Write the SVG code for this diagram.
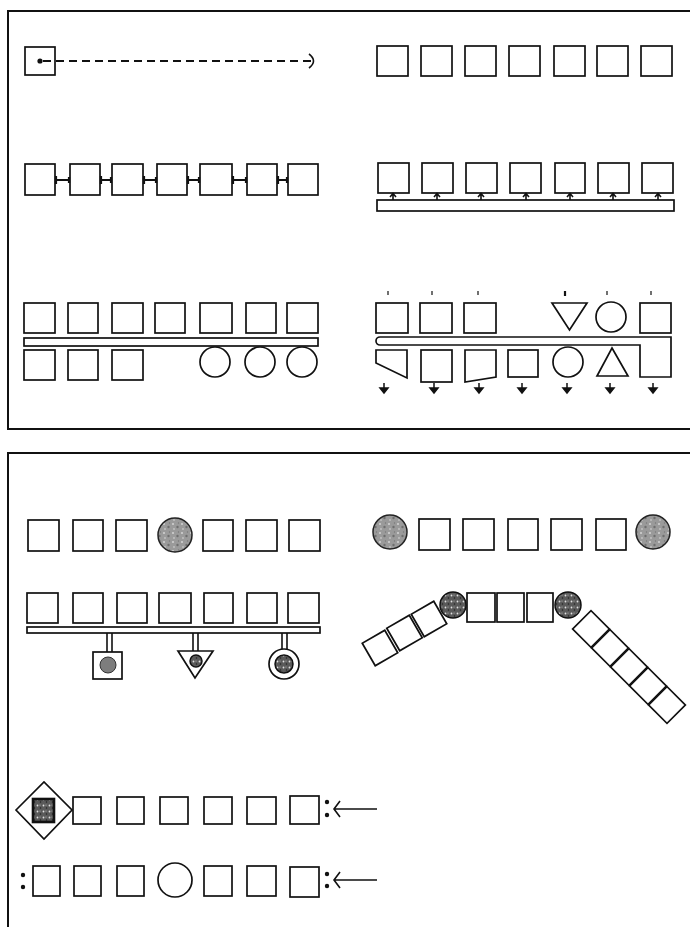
<svg xmlns="http://www.w3.org/2000/svg" width="690" height="927" viewBox="0 0 690 927">
<style>
.bg{fill:#fff}
.frame{fill:none;stroke:#111;stroke-width:2}
.s{fill:#fff;stroke:#111;stroke-width:1.7;stroke-linejoin:miter}
.g{fill:url(#spk);stroke:#222;stroke-width:1.5}
.d{fill:url(#dk);stroke:#111;stroke-width:1.5}
.ln{fill:none;stroke:#111;stroke-width:1.6}
.tk{fill:none;stroke:#111;stroke-width:2.2}
.dot{fill:#111}
</style>
<defs>
<pattern id="spk" width="9" height="9" patternUnits="userSpaceOnUse">
<rect width="9" height="9" fill="#9a9a9a"/>
<circle cx="2" cy="2" r="1.1" fill="#d0d0d0"/>
<circle cx="6.5" cy="5" r="1.2" fill="#6e6e6e"/>
<circle cx="3" cy="7" r="0.9" fill="#c4c4c4"/>
<circle cx="7.5" cy="1" r="0.7" fill="#777"/>
</pattern>
<pattern id="dk" width="6" height="6" patternUnits="userSpaceOnUse">
<rect width="6" height="6" fill="#5a5a5a"/>
<circle cx="1.5" cy="1.5" r="0.9" fill="#e0e0e0"/>
<circle cx="4.5" cy="4" r="0.8" fill="#222"/>
<circle cx="4" cy="1" r="0.6" fill="#bbb"/>
</pattern>
</defs>
<rect class="bg" width="690" height="927"/>
<rect class="frame" x="8" y="11" width="700" height="418"/>
<rect class="frame" x="8" y="453" width="700" height="500"/>

<!-- PANEL 1 -->
<g id="p1-r1-left">
<g id="p1-src"><rect class="s" x="25" y="47" width="30" height="28"/><circle class="dot" cx="40" cy="61" r="2.6"/></g>
</g>
<g id="p1-r1-right">
<g id="p1a1"><rect class="s" x="377" y="46" width="31" height="30"/></g>
<g id="p1a2"><rect class="s" x="421" y="46" width="31" height="30"/></g>
<g id="p1a3"><rect class="s" x="465" y="46" width="31" height="30"/></g>
<g id="p1a4"><rect class="s" x="509" y="46" width="31" height="30"/></g>
<g id="p1a5"><rect class="s" x="554" y="46" width="31" height="30"/></g>
<g id="p1a6"><rect class="s" x="597" y="46" width="31" height="30"/></g>
<g id="p1a7"><rect class="s" x="641" y="46" width="31" height="30"/></g>
</g>
<g id="p1-r2-left">
<g id="p1b1"><rect class="s" x="25" y="164" width="30" height="31"/></g>
<g id="p1b2"><rect class="s" x="70" y="164" width="30" height="31"/></g>
<g id="p1b3"><rect class="s" x="112" y="164" width="31" height="31"/></g>
<g id="p1b4"><rect class="s" x="157" y="164" width="30" height="31"/></g>
<g id="p1b5"><rect class="s" x="200" y="164" width="32" height="31"/></g>
<g id="p1b6"><rect class="s" x="247" y="164" width="30" height="31"/></g>
<g id="p1b7"><rect class="s" x="288" y="164" width="30" height="31"/></g>
</g>
<g id="p1-r2-right">
<g id="p1c1"><rect class="s" x="378" y="163" width="31" height="30"/></g>
<g id="p1c2"><rect class="s" x="422" y="163" width="31" height="30"/></g>
<g id="p1c3"><rect class="s" x="466" y="163" width="31" height="30"/></g>
<g id="p1c4"><rect class="s" x="510" y="163" width="31" height="30"/></g>
<g id="p1c5"><rect class="s" x="555" y="163" width="30" height="30"/></g>
<g id="p1c6"><rect class="s" x="598" y="163" width="31" height="30"/></g>
<g id="p1c7"><rect class="s" x="642" y="163" width="31" height="30"/></g>
<g id="p1c-rail"><rect class="s" x="377" y="200" width="297" height="11"/></g>
</g>
<g id="p1-r3-left">
<g id="p1d1"><rect class="s" x="24" y="303" width="31" height="30"/></g>
<g id="p1d2"><rect class="s" x="68" y="303" width="30" height="30"/></g>
<g id="p1d3"><rect class="s" x="112" y="303" width="31" height="30"/></g>
<g id="p1d4"><rect class="s" x="155" y="303" width="30" height="30"/></g>
<g id="p1d5"><rect class="s" x="200" y="303" width="32" height="30"/></g>
<g id="p1d6"><rect class="s" x="246" y="303" width="30" height="30"/></g>
<g id="p1d7"><rect class="s" x="287" y="303" width="31" height="30"/></g>
<g id="p1d-rail"><rect class="s" x="24" y="338" width="294" height="8"/></g>
<g id="p1e1"><rect class="s" x="24" y="350" width="31" height="30"/></g>
<g id="p1e2"><rect class="s" x="68" y="350" width="30" height="30"/></g>
<g id="p1e3"><rect class="s" x="112" y="350" width="31" height="30"/></g>
<g id="p1e4"><circle class="s" cx="215" cy="362" r="15"/></g>
<g id="p1e5"><circle class="s" cx="260" cy="362" r="15"/></g>
<g id="p1e6"><circle class="s" cx="302" cy="362" r="15"/></g>
</g>
<g id="p1-r3-right">
<g id="p1f1"><rect class="s" x="376" y="303" width="32" height="30"/></g>
<g id="p1f2"><rect class="s" x="420" y="303" width="32" height="30"/></g>
<g id="p1f3"><rect class="s" x="464" y="303" width="32" height="30"/></g>
<g id="p1f4"><path class="s" d="M552,303 H587 L569.5,330 Z"/></g>
<g id="p1f5"><circle class="s" cx="611" cy="317" r="15"/></g>
<g id="p1f6"><rect class="s" x="640" y="303" width="31" height="30"/></g>
<g id="p1f-rail"><path class="s" d="M380,337 H671 V377 H640 V345 H380 A4,4 0 0 1 380,337 Z"/></g>
<g id="p1g1"><path class="s" d="M376,350 H407 V378 L376,363 Z"/></g>
<g id="p1g2"><rect class="s" x="421" y="350" width="31" height="32"/></g>
<g id="p1g3"><path class="s" d="M465,350 H496 V377 L465,382 Z"/></g>
<g id="p1g4"><rect class="s" x="508" y="350" width="30" height="27"/></g>
<g id="p1g5"><circle class="s" cx="568" cy="362" r="15"/></g>
<g id="p1g6"><path class="s" d="M612,348 L628,376 H597 Z"/></g>
</g>

<!-- PANEL 2 -->
<g id="p2-r1-left">
<g id="p2a1"><rect class="s" x="28" y="520" width="31" height="31"/></g>
<g id="p2a2"><rect class="s" x="73" y="520" width="30" height="31"/></g>
<g id="p2a3"><rect class="s" x="116" y="520" width="31" height="31"/></g>
<g id="p2a4"><circle class="g" cx="175" cy="535" r="17"/></g>
<g id="p2a5"><rect class="s" x="203" y="520" width="30" height="31"/></g>
<g id="p2a6"><rect class="s" x="246" y="520" width="31" height="31"/></g>
<g id="p2a7"><rect class="s" x="289" y="520" width="31" height="31"/></g>
</g>
<g id="p2-r2-left">
<g id="p2b1"><rect class="s" x="27" y="593" width="31" height="30"/></g>
<g id="p2b2"><rect class="s" x="73" y="593" width="30" height="30"/></g>
<g id="p2b3"><rect class="s" x="117" y="593" width="30" height="30"/></g>
<g id="p2b4"><rect class="s" x="159" y="593" width="32" height="30"/></g>
<g id="p2b5"><rect class="s" x="204" y="593" width="29" height="30"/></g>
<g id="p2b6"><rect class="s" x="247" y="593" width="30" height="30"/></g>
<g id="p2b7"><rect class="s" x="288" y="593" width="31" height="30"/></g>
<g id="p2b-rail"><rect class="s" x="27" y="627" width="293" height="6"/></g>
<g id="p2c1"><rect class="s" x="93" y="652" width="29" height="27"/><circle cx="108" cy="665" r="8" fill="#7d7d7d" stroke="#333" stroke-width="1"/></g>
<g id="p2c2"><path class="s" d="M178,651 H213 L195,678 Z"/><circle class="d" cx="196" cy="661" r="6"/></g>
<g id="p2c3"><circle class="s" cx="284" cy="664" r="15"/><circle class="d" cx="284" cy="664" r="9"/></g>
</g>
<g id="p2-r1-right">
<g id="p2d1"><circle class="g" cx="390" cy="532" r="17"/></g>
<g id="p2d2"><rect class="s" x="419" y="519" width="31" height="31"/></g>
<g id="p2d3"><rect class="s" x="463" y="519" width="31" height="31"/></g>
<g id="p2d4"><rect class="s" x="508" y="519" width="30" height="31"/></g>
<g id="p2d5"><rect class="s" x="551" y="519" width="31" height="31"/></g>
<g id="p2d6"><rect class="s" x="596" y="519" width="30" height="31"/></g>
<g id="p2d7"><circle class="g" cx="653" cy="532" r="17"/></g>
</g>
<g id="p2-r2-right">
<g id="p2e1"><circle class="d" cx="453" cy="605" r="13"/></g>
<g id="p2e2"><rect class="s" x="467" y="593" width="28" height="29"/></g>
<g id="p2e3"><rect class="s" x="497" y="593" width="27" height="29"/></g>
<g id="p2e4"><rect class="s" x="527" y="593" width="26" height="29"/></g>
<g id="p2e5"><circle class="d" cx="568" cy="605" r="13"/></g>
<g id="p2f1"><rect class="s" x="-13" y="-13" width="26" height="26" transform="translate(429,619) rotate(-30)"/></g>
<g id="p2f2"><rect class="s" x="-13" y="-13" width="26" height="26" transform="translate(404.5,633) rotate(-30)"/></g>
<g id="p2f3"><rect class="s" x="-13" y="-13" width="26" height="26" transform="translate(380,648) rotate(-30)"/></g>
<g id="p2g1"><rect class="s" x="-13" y="-13" width="26" height="26" transform="translate(591,629) rotate(45)"/></g>
<g id="p2g2"><rect class="s" x="-13" y="-13" width="26" height="26" transform="translate(610,648) rotate(45)"/></g>
<g id="p2g3"><rect class="s" x="-13" y="-13" width="26" height="26" transform="translate(629,667) rotate(45)"/></g>
<g id="p2g4"><rect class="s" x="-13" y="-13" width="26" height="26" transform="translate(648,686) rotate(45)"/></g>
<g id="p2g5"><rect class="s" x="-13" y="-13" width="26" height="26" transform="translate(667,705) rotate(45)"/></g>
</g>
<g id="p2-r3">
<g id="p2h0"><path class="s" d="M16,810 L44,782 L72,810 L44,839 Z"/><rect x="33" y="799" width="21" height="23" fill="url(#dk)" stroke="#111" stroke-width="2.6"/></g>
<g id="p2h1"><rect class="s" x="73" y="797" width="28" height="27"/></g>
<g id="p2h2"><rect class="s" x="117" y="797" width="27" height="27"/></g>
<g id="p2h3"><rect class="s" x="160" y="797" width="28" height="27"/></g>
<g id="p2h4"><rect class="s" x="204" y="797" width="28" height="27"/></g>
<g id="p2h5"><rect class="s" x="247" y="797" width="29" height="27"/></g>
<g id="p2h6"><rect class="s" x="290" y="796" width="29" height="28"/></g>
</g>
<g id="p2-r4">
<g id="p2i1"><rect class="s" x="33" y="866" width="27" height="30"/></g>
<g id="p2i2"><rect class="s" x="74" y="866" width="27" height="30"/></g>
<g id="p2i3"><rect class="s" x="117" y="866" width="27" height="30"/></g>
<g id="p2i4"><circle class="s" cx="175" cy="880" r="17"/></g>
<g id="p2i5"><rect class="s" x="204" y="866" width="28" height="30"/></g>
<g id="p2i6"><rect class="s" x="247" y="866" width="29" height="30"/></g>
<g id="p2i7"><rect class="s" x="290" y="867" width="29" height="30"/></g>
</g>

<!-- CONNECTORS -->
<g id="connectors">
<line x1="43" y1="61" x2="313" y2="61" stroke="#111" stroke-width="1.8" stroke-dasharray="8 5"/>
<path class="ln" d="M309,54 Q318,61 309,68" stroke-width="2"/>
<g class="tk">
<path d="M55,180 H70 M56,176 V184 M69,177 V183"/>
<path d="M100,180 H112 M101,176 V184 M111,177 V183"/>
<path d="M143,180 H157 M144,176 V184 M156,177 V183"/>
<path d="M187,180 H200 M188,176 V184 M199,177 V183"/>
<path d="M232,180 H247 M233,176 V184 M246,177 V183"/>
<path d="M277,180 H288 M278,176 V184 M287,177 V183"/>
</g>
<g class="ln">
<path d="M393,200 V194 M390,197 L393,193.5 L396,197"/>
<path d="M437,200 V194 M434,197 L437,193.5 L440,197"/>
<path d="M481,200 V194 M478,197 L481,193.5 L484,197"/>
<path d="M526,200 V194 M523,197 L526,193.5 L529,197"/>
<path d="M570,200 V194 M567,197 L570,193.5 L573,197"/>
<path d="M613,200 V194 M610,197 L613,193.5 L616,197"/>
<path d="M658,200 V194 M655,197 L658,193.5 L661,197"/>
</g>
<g stroke="#111" stroke-width="1.2">
<line x1="388" y1="291" x2="388" y2="295"/>
<line x1="432" y1="291" x2="432" y2="295"/>
<line x1="478" y1="291" x2="478" y2="295"/>
<line x1="565" y1="291" x2="565" y2="296" stroke-width="2.2"/>
<line x1="607" y1="291" x2="607" y2="295"/>
<line x1="651" y1="291" x2="651" y2="295"/>
</g>
<g stroke="#111" stroke-width="1.5" fill="#111">
<path d="M384,383 V390 M380,388 L388,388 L384,393 Z"/>
<path d="M434,383 V390 M430,388 L438,388 L434,393 Z"/>
<path d="M479,383 V390 M475,388 L483,388 L479,393 Z"/>
<path d="M522,383 V390 M518,388 L526,388 L522,393 Z"/>
<path d="M567,383 V390 M563,388 L571,388 L567,393 Z"/>
<path d="M610,383 V390 M606,388 L614,388 L610,393 Z"/>
<path d="M653,383 V390 M649,388 L657,388 L653,393 Z"/>
</g>
<g class="ln" stroke-width="1.4">
<path d="M107,633 V652 M112,633 V652"/>
<path d="M193,633 V651 M198,633 V651"/>
<path d="M282,633 V649 M287,633 V649"/>
</g>
<circle class="dot" cx="327" cy="802" r="2.2"/>
<circle class="dot" cx="327" cy="815" r="2.2"/>
<path class="ln" d="M334,809 H377 M340,801 L334,809 L340,817"/>
<circle class="dot" cx="23" cy="875" r="2.2"/>
<circle class="dot" cx="23" cy="887" r="2.2"/>
<circle class="dot" cx="327" cy="874" r="2.2"/>
<circle class="dot" cx="327" cy="886" r="2.2"/>
<path class="ln" d="M334,880 H377 M340,872 L334,880 L340,888"/>
</g>
</svg>
